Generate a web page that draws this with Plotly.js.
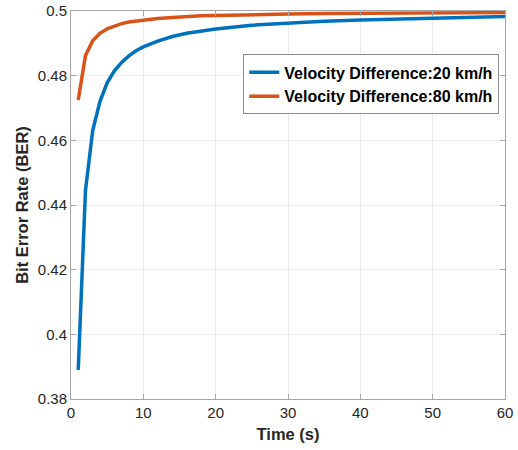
<!DOCTYPE html>
<html>
<head>
<meta charset="utf-8">
<script src="https://cdn.plot.ly/plotly-3.0.1.min.js"></script>
<style>html,body{margin:0;padding:0;background:#fff;}#chart{width:518px;height:450px;}</style>
</head>
<body>
<div id="chart"></div>
<script>
const time = [1,2,3,4,5,6,7,8,9,10,12,14,16,18,20,25,30,35,40,45,50,55,60];
const ber20 = [0.389,0.4445,0.463,0.472,0.4778,0.4815,0.4841,0.4861,0.4877,0.4889,0.4907,0.4921,0.4931,0.4938,0.4944,0.4956,0.4963,0.4968,0.4972,0.4975,0.4978,0.4981,0.4983];
const ber80 = [0.4725,0.4862,0.4908,0.4931,0.4945,0.4954,0.4961,0.4966,0.4969,0.4972,0.4977,0.4980,0.4983,0.4985,0.4986,0.4989,0.4991,0.4992,0.4993,0.4994,0.4994,0.4995,0.4995];
const names = ['Velocity Difference:20 km/h','Velocity Difference:80 km/h'];
const xTicks = [0,10,20,30,40,50,60];
const yTicks = [0.38,0.4,0.42,0.44,0.46,0.48,0.5];
const yTickText = ['0.38','0.4','0.42','0.44','0.46','0.48','0.5'];

const FONT = 'Liberation Sans, Arial, Helvetica, sans-serif';
const traces = [
  {x: time, y: ber20, mode: 'lines', name: '<b>' + names[0] + '</b>', line: {color: '#0072BD', width: 3.5}},
  {x: time, y: ber80, mode: 'lines', name: '<b>' + names[1] + '</b>', line: {color: '#D95319', width: 3.5}}
];
const axisCommon = {
  showline: true, mirror: 'ticks', linecolor: '#a6a6a6', linewidth: 1,
  ticks: 'inside', ticklen: 5, tickcolor: '#a6a6a6',
  showgrid: true, gridcolor: '#ececec', zeroline: false,
  tickfont: {family: FONT, size: 15, color: '#262626'}
};
const layout = {
  width: 518, height: 450,
  margin: {l: 71, r: 13, t: 11, b: 51},
  paper_bgcolor: '#fff', plot_bgcolor: '#fff',
  showlegend: true,
  legend: {
    x: 0.397, y: 0.888, xanchor: 'left', yanchor: 'top',
    bgcolor: '#fff', bordercolor: '#8c8c8c', borderwidth: 1,
    font: {family: FONT, size: 16, color: '#000'},
    tracegroupgap: 0
  },
  xaxis: Object.assign({}, axisCommon, {
    range: [0, 60], tickvals: xTicks,
    title: {text: '<b>Time (s)</b>', font: {family: FONT, size: 16.5, color: '#262626'}, standoff: 8}
  }),
  yaxis: Object.assign({}, axisCommon, {
    range: [0.38, 0.5], tickvals: yTicks, ticktext: yTickText,
    title: {text: '<b>Bit Error Rate (BER)</b>', font: {family: FONT, size: 16.5, color: '#262626'}, standoff: 5}
  })
};
Plotly.newPlot('chart', traces, layout, {displayModeBar: false, staticPlot: true});
</script>
</body>
</html>
